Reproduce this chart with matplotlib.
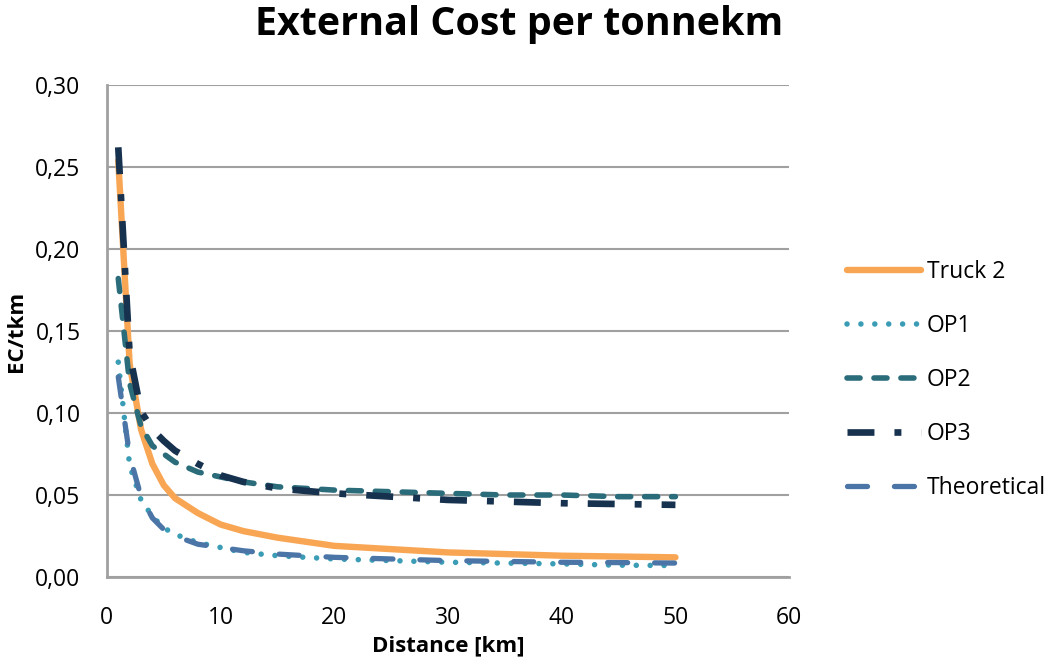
import matplotlib
matplotlib.use("Agg")
import matplotlib.pyplot as plt
from matplotlib.ticker import FuncFormatter, MultipleLocator

plt.rcParams['font.family'] = ['Open Sans', 'DejaVu Sans']
plt.rcParams['lines.scale_dashes'] = False

distance = [1, 2, 3, 4, 5, 6, 8, 10, 12, 15, 20, 25, 30, 35, 40, 45, 50]
truck2 = [0.254, 0.130, 0.090, 0.069, 0.056, 0.048, 0.039, 0.032, 0.028, 0.024, 0.019, 0.017, 0.015, 0.014, 0.013, 0.0125, 0.012]
op1 = [0.131, 0.068, 0.047, 0.037, 0.030, 0.026, 0.021, 0.018, 0.015, 0.013, 0.011, 0.010, 0.009, 0.0085, 0.008, 0.0072, 0.007]
op2 = [0.182, 0.118, 0.092, 0.080, 0.075, 0.070, 0.064, 0.061, 0.058, 0.055, 0.053, 0.052, 0.051, 0.050, 0.050, 0.049, 0.049]
op3 = [0.262, 0.136, 0.101, 0.090, 0.083, 0.077, 0.069, 0.062, 0.058, 0.054, 0.051, 0.049, 0.047, 0.046, 0.045, 0.0445, 0.044]
theoretical = [0.122, 0.074, 0.049, 0.036, 0.029, 0.025, 0.020, 0.018, 0.016, 0.014, 0.012, 0.011, 0.010, 0.0095, 0.009, 0.0088, 0.0085]

series_names = ["Truck 2", "OP1", "OP2", "OP3", "Theoretical"]

fig = plt.figure(figsize=(10.48, 6.68), dpi=100)
ax = fig.add_axes([0.102, 0.1362, 0.651, 0.7366])

ax.plot(distance, truck2, color="#F9A654", lw=4.6, solid_capstyle="round", label=series_names[0], zorder=3)
ax.plot(distance, op1, color="#3A9DB5", lw=4.0, dashes=(0.01, 10), dash_capstyle="round", label=series_names[1], zorder=4)
ax.plot(distance, op2, color="#2A6C7A", lw=4.0, dashes=(9.4, 10), dash_capstyle="round", label=series_names[2], zorder=4)
ax.plot(distance, op3, color="#17324F", lw=4.8, dashes=(19.4, 14.4, 5, 14.4), dash_capstyle="butt", label=series_names[3], zorder=5)
ax.plot(distance, theoretical, color="#4A75A6", lw=3.8, dashes=(14.4, 19.4), dash_capstyle="round", label=series_names[4], zorder=4)

ax.set_xlim(0, 60)
ax.set_ylim(0, 0.30)
ax.xaxis.set_major_locator(MultipleLocator(10))
ax.yaxis.set_major_locator(MultipleLocator(0.05))
ax.yaxis.set_major_formatter(FuncFormatter(lambda v, p: f"{v:.2f}".replace(".", ",")))

ax.grid(axis="y", color="#A0A0A0", lw=1.5)
ax.set_axisbelow(True)
for s in ["top", "right"]:
    ax.spines[s].set_visible(False)
for s in ["left", "bottom"]:
    ax.spines[s].set_color("#A0A0A0")
    ax.spines[s].set_linewidth(2)
ax.tick_params(length=0, labelsize=16.5, colors="black")
ax.tick_params(axis="y", pad=19)
ax.tick_params(axis="x", pad=21)

ax.set_xlabel("Distance [km]", fontsize=16, fontweight="bold", labelpad=4)
ax.set_ylabel("EC/tkm", fontsize=16, fontweight="bold", labelpad=6)

fig.suptitle("External Cost per tonnekm", fontsize=28.4, fontweight="bold", x=0.495, y=0.992, va="top")

leg = ax.legend(loc="center left", bbox_to_anchor=(1.055, 0.40), frameon=False,
                fontsize=16.5, handlelength=3.2, handletextpad=0.26, labelspacing=1.31)

fig.savefig("out.png", dpi=100)
